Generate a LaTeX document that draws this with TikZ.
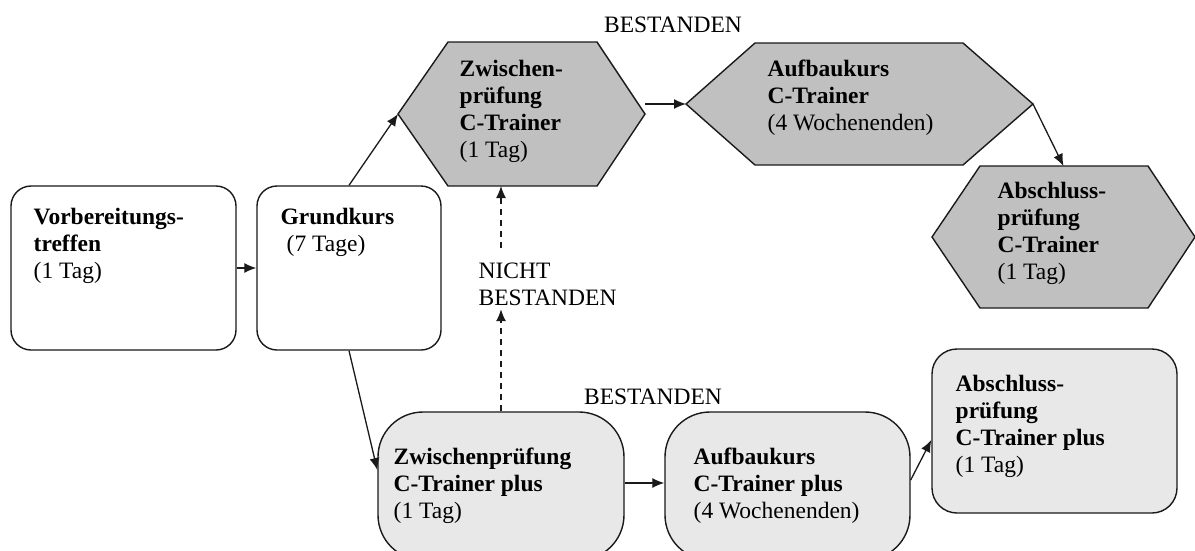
\documentclass[tikz,border=0pt]{standalone}
\usepackage{fontspec}
\setmainfont{Liberation Serif}
\usetikzlibrary{arrows.meta,calc}
\definecolor{hexgray}{HTML}{C0C0C0}
\definecolor{plusgray}{HTML}{E8E8E8}
\definecolor{edge}{HTML}{1A1A1A}
\begin{document}
\begin{tikzpicture}[x=1pt,y=-1pt,
  line width=1.4pt,
  conn/.style={draw=edge, line width=1.3pt, -{Latex[length=12pt,width=10pt]}},
  dconn/.style={conn, dash pattern=on 6pt off 5pt},
  whitebox/.style={draw=edge, fill=white, rounded corners=20pt, inner sep=0pt},
  plusbox/.style={draw=edge, fill=plusgray, inner sep=0pt},
  hexarea/.style={inner sep=0pt, outer sep=0pt},
  hexfill/.style={draw=edge, fill=hexgray},
  txt/.style={anchor=north west, inner sep=0pt, align=left, text=black,
    font=\fontsize{23.5}{27}\selectfont},
  lbl/.style={inner sep=0pt, text=black, font=\fontsize{23.5}{27}\selectfont},
]
\clip (0,0) rectangle (1195,550);
\fill[white] (0,0) rectangle (1195,550);

% white boxes
\node[whitebox, minimum width=225pt, minimum height=164pt] (b1) at (123.5,268) {};
\node[whitebox, minimum width=184pt, minimum height=164pt] (b2) at (349,268) {};

% hexagon areas
\node[hexarea, minimum width=247pt, minimum height=144pt] (h1) at (521.5,114) {};
\node[hexarea, minimum width=347pt, minimum height=122pt] (h2) at (859.5,104) {};
\node[hexarea, minimum width=263pt, minimum height=142pt] (h3) at (1063.5,237) {};

\path[hexfill] (h1.west) -- ($(h1.north west)+(50,0)$) -- ($(h1.north east)+(-48,0)$)
  -- (h1.east) -- ($(h1.south east)+(-48,0)$) -- ($(h1.south west)+(50,0)$) -- cycle;
\path[hexfill] (h2.west) -- ($(h2.north west)+(69,0)$) -- ($(h2.north east)+(-70,0)$)
  -- (h2.east) -- ($(h2.south east)+(-70,0)$) -- ($(h2.south west)+(69,0)$) -- cycle;
\path[hexfill] (h3.west) -- ($(h3.north west)+(48,0)$) -- ($(h3.north east)+(-47,0)$)
  -- (h3.east) -- ($(h3.south east)+(-47,0)$) -- ($(h3.south west)+(48,0)$) -- cycle;

% plus shapes
\node[plusbox, rounded corners=45pt, minimum width=246pt, minimum height=148pt] (zp) at (501,486) {};
\node[plusbox, rounded corners=45pt, minimum width=245pt, minimum height=148pt] (ap) at (787.5,486) {};
\node[plusbox, rounded corners=25pt, minimum width=245pt, minimum height=164pt] (apb) at (1054.5,431) {};

% texts
\node[txt] (t1) at (33,207) {\textbf{Vorbereitungs-}\\\textbf{treffen}\\(1 Tag)};
\node[txt] (t2) at (280,207) {\textbf{Grundkurs}\\\hspace*{6pt}(7 Tage)};
\node[txt] (t3) at (459,59) {\textbf{Zwischen-}\\\textbf{prüfung}\\\textbf{C-Trainer}\\(1 Tag)};
\node[txt] (t4) at (767,59) {\textbf{Aufbaukurs}\\\textbf{C-Trainer}\\(4 Wochenenden)};
\node[txt] (t5) at (997,181) {\textbf{Abschluss-}\\\textbf{prüfung}\\\textbf{C-Trainer}\\(1 Tag)};
\node[txt] (t6) at (393,447) {\textbf{Zwischenprüfung}\\\textbf{C-Trainer plus}\\(1 Tag)};
\node[txt] (t7) at (693,447) {\textbf{Aufbaukurs}\\\textbf{C-Trainer plus}\\(4 Wochenenden)};
\node[txt] (t8) at (955,374) {\textbf{Abschluss-}\\\textbf{prüfung}\\\textbf{C-Trainer plus}\\(1 Tag)};

% labels
\node[lbl, anchor=base] (lb1) at (673,32) {BESTANDEN};
\node[lbl, anchor=base] (lb2) at (653,404) {BESTANDEN};
\node[lbl, anchor=north west, align=left, inner ysep=3pt] (nb) at (478,259) {NICHT\\BESTANDEN};

% connectors
\draw[conn] (b1.east) -- (b2.west);
\draw[conn] (b2.north) -- (h1.west);
\draw[conn] (b2.south) -- ([yshift=16pt]zp.west);
\draw[conn] (h1.east |- h2.west) -- (h2.west);
\draw[conn] (h2.east) -- (h3.north);
\draw[conn] ([yshift=3pt]zp.east) -- ([yshift=3pt]ap.west);
\draw[conn] ([yshift=6pt]ap.east) -- ([yshift=-9pt]apb.west);
\draw[dconn] (zp.north) -- (zp.north |- nb.south);
\draw[dconn, shorten <=11pt] (zp.north |- nb.north) -- (zp.north |- h1.south);
\end{tikzpicture}
\end{document}
